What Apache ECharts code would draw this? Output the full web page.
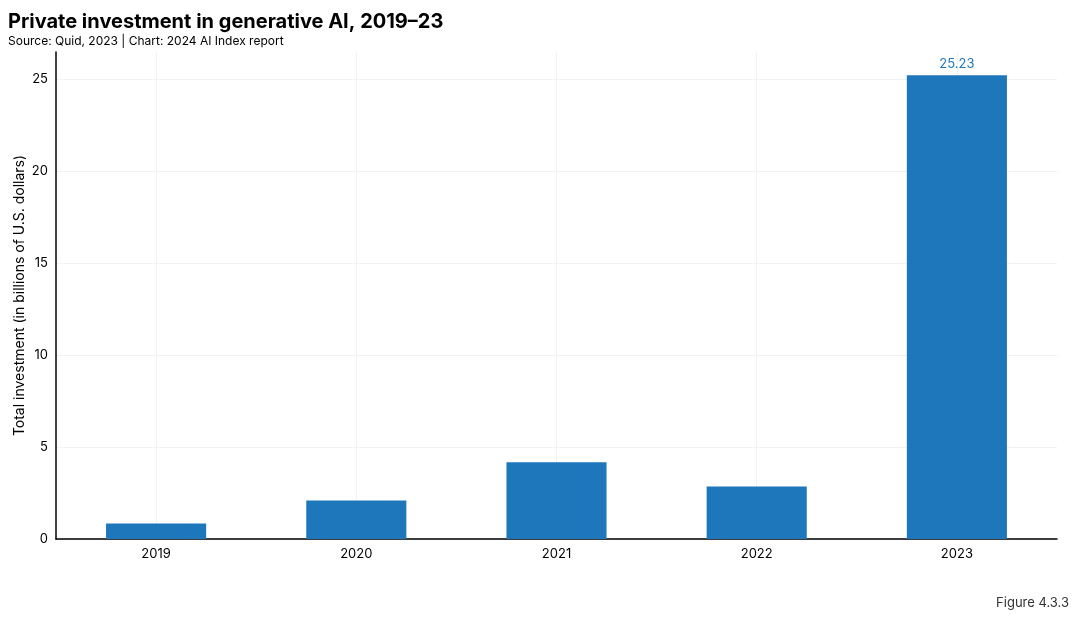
<!DOCTYPE html>
<html><head><meta charset="utf-8">
<script src="https://cdn.jsdelivr.net/npm/echarts@6/dist/echarts.min.js"></script>
<style>html,body{margin:0;padding:0;background:#fff}#c{width:1080px;height:619px}</style>
</head><body><div id="c"></div>
<script>
const years = ['2019', '2020', '2021', '2022', '2023'];
const investment = [0.84, 2.10, 4.17, 2.85, 25.23];
const yTicks = [0, 5, 10, 15, 20, 25];
const labelledYear = '2023';

const font = 'Inter, "Noto Sans", sans-serif';
const chart = echarts.init(document.getElementById('c'));
const gridCats = [];
years.forEach((y, i) => { gridCats.push('b' + i); gridCats.push('c' + i); });
gridCats.push('end');

chart.setOption({
  animation: false,
  textStyle: { fontFamily: font },
  title: [
    { text: 'Private investment in generative AI, 2019–23', left: 3, top: 7,
      textStyle: { fontSize: 20, fontWeight: 'bold', color: '#000', fontFamily: font },
      subtext: 'Source: Quid, 2023 | Chart: 2024 AI Index report', itemGap: 3,
      subtextStyle: { fontSize: 12, color: '#000', fontFamily: font } },
    { text: 'Figure 4.3.3', right: 6, top: 592,
      textStyle: { fontSize: 13, fontWeight: 'normal', color: '#333', fontFamily: font } }
  ],
  grid: { left: 56, right: 23, top: 52, bottom: 80 },
  xAxis: [
    { type: 'category', data: years,
      axisLine: { lineStyle: { color: '#000', width: 1.5 } },
      axisTick: { show: false },
      axisLabel: { color: '#000', fontSize: 13, margin: 9 },
      splitLine: { show: false } },
    { type: 'category', data: gridCats, boundaryGap: false, position: 'bottom', show: true,
      axisLine: { show: false }, axisTick: { show: false }, axisLabel: { show: false },
      splitLine: { show: true, interval: (idx) => idx % 2 === 1, lineStyle: { color: '#f2f2f2', width: 1 } } }
  ],
  yAxis: {
    type: 'value', min: 0, max: 26.49, interval: 5,
    name: 'Total investment (in billions of U.S. dollars)', nameLocation: 'middle', nameGap: 29,
    nameMoveOverlap: false,
    nameTextStyle: { fontSize: 14, color: '#000' },
    axisLine: { show: true, lineStyle: { color: '#000', width: 1.5 } },
    axisTick: { show: false },
    axisLabel: { color: '#000', fontSize: 13, margin: 8,
      formatter: v => yTicks.includes(v) ? String(v) : '' },
    splitLine: { show: true, lineStyle: { color: ['#f2f2f2', '#f2f2f2', '#f2f2f2', '#f2f2f2', '#f2f2f2', '#f2f2f2', 'rgba(0,0,0,0)'], width: 1 } }
  },
  series: [{
    type: 'bar', data: investment.map((v, i) => ({ value: v,
      label: { show: years[i] === labelledYear } })),
    barWidth: '50%',
    itemStyle: { color: '#1f77bb' },
    label: { position: 'top', color: '#1f77bb', fontSize: 13, distance: 5 }
  }]
});
</script></body></html>
